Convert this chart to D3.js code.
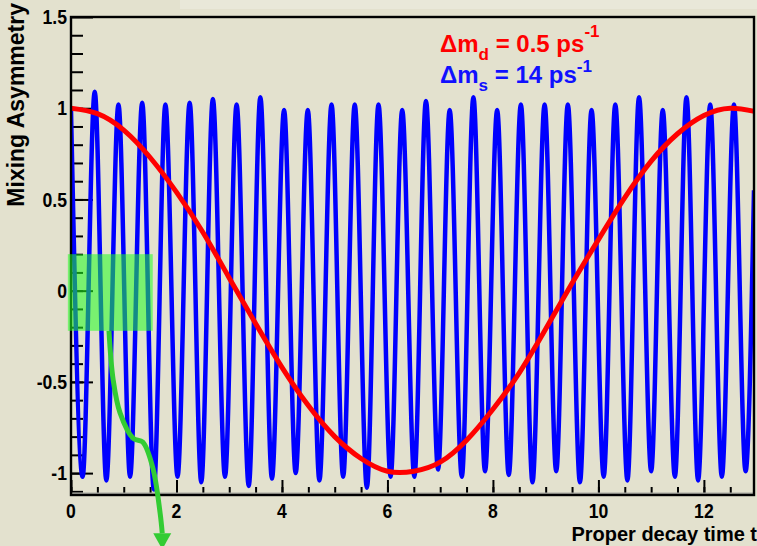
<!DOCTYPE html>
<html>
<head>
<meta charset="utf-8">
<script src="https://cdn.jsdelivr.net/npm/d3@7"></script>
<style>
    body { margin: 0; background: #e3e1ce; }
    svg { display: block; }
    text { font-family: "Liberation Sans", Arial, sans-serif; font-weight: bold; }
</style>
</head>
<body>
<script>
    // red curve: delta m_d = 0.5 ps^-1
    let redT = [0, 0.5, 1, 1.5, 2, 2.5, 3, 3.5, 4, 4.5, 5, 5.5, 6, 6.5, 7, 7.5, 8, 8.5, 9, 9.5, 10, 10.5, 11, 11.5, 12, 12.5, 13];
    let redV = [1.00, 0.97, 0.88, 0.73, 0.54, 0.32, 0.07, -0.18, -0.42, -0.63, -0.80, -0.92, -0.99, -0.99, -0.94, -0.82,
        -0.65, -0.45, -0.21, 0.04, 0.28, 0.51, 0.71, 0.86, 0.96, 1.00, 0.98];

    // blue curve: delta m_s = 14 ps^-1, peaks and troughs
    let bluePeakT = [0, 0.45, 0.90, 1.35, 1.79, 2.25, 2.69, 3.14, 3.59, 4.04, 4.49, 4.94, 5.38, 5.83, 6.28,
        6.73, 7.18, 7.63, 8.08, 8.53, 8.98, 9.42, 9.87, 10.32, 10.77, 11.22, 11.67, 12.12, 12.57];
    let bluePeakV = [0.99, 1.09, 1.02, 1.03, 1.02, 1.03, 1.05, 1.02, 1.06, 0.99, 0.99, 1.02, 1.02, 1.02, 0.99,
        1.04, 0.99, 1.06, 0.99, 1.02, 1.02, 1.02, 0.99, 1.02, 1.06, 0.99, 1.06, 1.02, 1.02];
    let blueTroughT = [0.22, 0.67, 1.12, 1.57, 2.02, 2.47, 2.92, 3.37, 3.81, 4.26, 4.71, 5.16, 5.61, 6.06, 6.51,
        6.96, 7.41, 7.85, 8.30, 8.75, 9.20, 9.65, 10.10, 10.55, 11.00, 11.45, 11.89, 12.34, 12.79];
    let blueTroughV = [-1.02, -1.04, -1.02, -1.09, -1.02, -1.05, -1.02, -1.07, -1.03, -1.00, -1.04, -1.02, -1.08, -1.02, -1.02,
        -0.98, -1.02, -0.99, -1.01, -1.05, -0.99, -1.05, -1.02, -1.04, -0.99, -1.02, -1.04, -1.02, -0.99];
    let blueEnd = [12.95, 0.55];

    let xTicks = [0, 2, 4, 6, 8, 10, 12];
    let yTicks = [-1, -0.5, 0, 0.5, 1, 1.5];
    let yTickLabels = ["-1", "-0.5", "0", "0.5", "1", "1.5"];

    // highlight box and arrow (data coordinates)
    let boxT = [-0.06, 1.55];
    let boxV = [0.20, -0.22];
    let arrowT = [0.72, 0.80, 0.93, 1.18, 1.36, 1.55, 1.69, 1.73];
    let arrowV = [-0.22, -0.49, -0.67, -0.81, -0.83, -0.97, -1.22, -1.33];

    let svg = d3.select('body')
        .append('svg')
        .attr('width', 757)
        .attr('height', 546)

    let xScale = d3.scaleLinear().domain([0, 12.95]).range([71, 754]);
    let yScale = d3.scaleLinear().domain([-1.12, 1.5]).range([495, 17]);

    // title pad remnant at top
    svg.append('rect')
        .attr('x', 180).attr('y', 0)
        .attr('width', 577).attr('height', 9)
        .attr('fill', '#e9e8d9')

    svg.append('clipPath').attr('id', 'plot')
        .append('rect')
        .attr('x', 71).attr('y', 17)
        .attr('width', 683).attr('height', 478)

    // ticks
    let minorX = d3.range(0, 26).map((i) => i / 2);
    let minorY = d3.range(-11, 15).map((i) => i / 10);

    function tickAxis(axis, tr) {
        let g = svg.append('g').attr('transform', tr).call(axis);
        g.select('.domain').remove();
        g.selectAll('line').attr('stroke', 'black').attr('stroke-width', 2);
        return g;
    }

    tickAxis(d3.axisTop(xScale).tickValues(minorX).tickSize(8).tickSizeOuter(0).tickFormat(''), 'translate(0,495)');
    tickAxis(d3.axisTop(xScale).tickValues(xTicks).tickSize(15).tickSizeOuter(0).tickFormat(''), 'translate(0,495)');
    tickAxis(d3.axisRight(yScale).tickValues(minorY).tickSize(12).tickSizeOuter(0).tickFormat(''), 'translate(71,0)');
    tickAxis(d3.axisRight(yScale).tickValues(yTicks).tickSize(22).tickSizeOuter(0).tickFormat(''), 'translate(71,0)');

    // blue oscillation
    let bluePts = [];
    bluePeakT.forEach((t, i) => {
        bluePts.push([t, bluePeakV[i]]);
        bluePts.push([blueTroughT[i], blueTroughV[i]]);
    });
    bluePts.push(blueEnd);

    let line = d3.line()
        .x((d) => xScale(d[0]))
        .y((d) => yScale(d[1]));

    svg.append('path')
        .attr('clip-path', 'url(#plot)')
        .attr('d', line.curve(d3.curveMonotoneX)(bluePts))
        .attr('fill', 'none')
        .attr('stroke', '#0000ff')
        .attr('stroke-width', 4.5)
        .attr('stroke-linejoin', 'round')

    let redPts = redT.map((t, i) => [t, redV[i]]);
    svg.append('path')
        .attr('clip-path', 'url(#plot)')
        .attr('d', line.curve(d3.curveNatural)(redPts))
        .attr('fill', 'none')
        .attr('stroke', '#ff0000')
        .attr('stroke-width', 5)

    // frame
    svg.append('line')
        .attr('x1', 71).attr('x2', 754)
        .attr('y1', 493.3).attr('y2', 493.3)
        .attr('stroke', '#a8a8a0').attr('stroke-width', 1.5)
    svg.append('rect')
        .attr('x', 71).attr('y', 17)
        .attr('width', 683).attr('height', 478)
        .attr('fill', 'none')
        .attr('stroke', 'black')
        .attr('stroke-width', 2.4)

    // tick labels
    xTicks.forEach((t) => {
        svg.append('text')
            .attr('transform', 'translate(' + xScale(t) + ',518) scale(0.88,1)')
            .attr('text-anchor', 'middle')
            .attr('font-size', 20)
            .text(t);
    });
    yTicks.forEach((v, i) => {
        svg.append('text')
            .attr('transform', 'translate(67,' + yScale(v) + ') scale(0.88,1)')
            .attr('text-anchor', 'end')
            .attr('dy', '0.36em')
            .attr('font-size', 20)
            .text(yTickLabels[i]);
    });

    // axis titles
    svg.append('text')
        .attr('x', 757)
        .attr('y', 541)
        .attr('text-anchor', 'end')
        .attr('font-size', 20)
        .text('Proper decay time t');

    svg.append('text')
        .attr('transform', 'translate(24,3) rotate(-90)')
        .attr('text-anchor', 'end')
        .attr('font-size', 23)
        .text('Mixing Asymmetry');

    // legend text
    function legend(y, color, sub, rest, up) {
        let t = svg.append('text')
            .attr('x', 440)
            .attr('y', y)
            .attr('fill', color)
            .attr('font-size', 24);
        t.append('tspan').text('\u0394m');
        t.append('tspan').attr('dy', 8).attr('font-size', 17).text(sub);
        t.append('tspan').attr('dy', -8).text(rest);
        t.append('tspan').attr('dy', -up).attr('font-size', 17).text('-1');
    }
    legend(52, '#ff0000', 'd', ' = 0.5 ps', 15);
    legend(83, '#1010ff', 's', ' = 14 ps', 11);

    // green highlight box
    svg.append('rect')
        .attr('x', xScale(boxT[0]))
        .attr('y', yScale(boxV[0]))
        .attr('width', xScale(boxT[1]) - xScale(boxT[0]))
        .attr('height', yScale(boxV[1]) - yScale(boxV[0]))
        .attr('fill', '#22ff22')
        .attr('opacity', 0.55)

    let arrowPts = arrowT.map((t, i) => [t, arrowV[i]]);
    svg.append('path')
        .attr('d', line.curve(d3.curveCatmullRom)(arrowPts))
        .attr('fill', 'none')
        .attr('stroke', '#33cc33')
        .attr('stroke-width', 5)

    let tip = arrowPts[arrowPts.length - 1];
    let tx = xScale(tip[0]), ty = yScale(tip[1]);
    svg.append('path')
        .attr('d', 'M' + (tx - 9) + ',' + ty + 'L' + (tx + 9) + ',' + ty + 'L' + tx + ',' + (ty + 16) + 'Z')
        .attr('fill', '#33cc33')
</script>
</body>
</html>
